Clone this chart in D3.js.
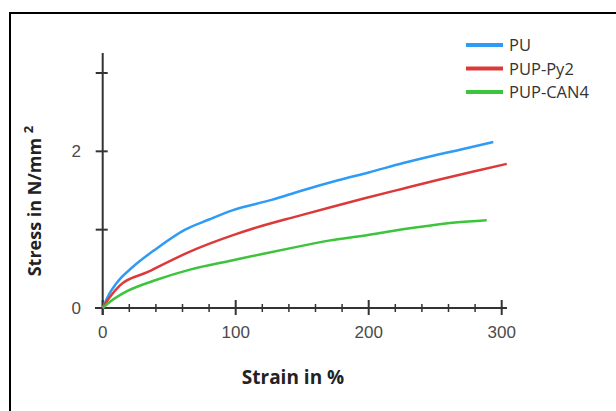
<!DOCTYPE html>
<meta charset="utf-8">
<script src="https://d3js.org/d3.v7.min.js"></script>
<body style="margin:0; background:#fff">
<div id="chart"></div>
</body>
<script>
    // Series: [strain %, stress N/mm2]
    var seriesNames = ["PU", "PUP-Py2", "PUP-CAN4"];
    var seriesColors = ["#2f9bf5", "#dc3a3a", "#3cc43c"];
    var puData = [[0, 0], [4, 0.15], [10.5, 0.32], [23, 0.53], [40.6, 0.76], [62, 1.0], [80, 1.13],
        [98, 1.25], [127, 1.38], [150, 1.5], [177, 1.63], [200, 1.73], [226, 1.85], [250, 1.95], [271, 2.03], [293.7, 2.12]];
    var pyData = [[0, 0], [5, 0.13], [13, 0.29], [34, 0.46], [65.6, 0.72], [98, 0.93], [120, 1.05],
        [146, 1.17], [170, 1.28], [197, 1.40], [225, 1.52], [251, 1.63], [278, 1.74], [303.8, 1.84]];
    var canData = [[0, 0], [5.5, 0.08], [15.5, 0.19], [40.6, 0.36], [65.6, 0.49], [98, 0.61], [120, 0.69],
        [146, 0.78], [170, 0.86], [198.5, 0.93], [220, 0.99], [241, 1.04], [265, 1.09], [288.7, 1.12]];
    var allSeries = [puData, pyData, canData];
    var xMajorTicks = [0, 100, 200, 300];
    var xMinorTicks = d3.range(20, 300, 20).filter(function (d) { return d % 100 !== 0; });
    var yTicks = [0, 1, 2, 3];
    var yLabels = [0, 2];

    var svg = d3.select("#chart").append("svg")
        .attr("width", 616)
        .attr("height", 411);

    // frame (only top and left edges visible)
    svg.append("rect")
        .attr("x", 10).attr("y", 13)
        .attr("width", 800).attr("height", 600)
        .attr("fill", "none")
        .attr("stroke", "#000")
        .attr("stroke-width", 2);

    var x = d3.scaleLinear().domain([0, 300]).range([102.7, 501.7]);
    var y = d3.scaleLinear().domain([0, 3]).range([308, 73]);

    var axisColor = "#333";

    // x axis line
    svg.append("line")
        .attr("x1", 95).attr("x2", 507)
        .attr("y1", y(0)).attr("y2", y(0))
        .attr("stroke", axisColor).attr("stroke-width", 2);

    // y axis line
    svg.append("line")
        .attr("x1", x(0)).attr("x2", x(0))
        .attr("y1", 53).attr("y2", 315)
        .attr("stroke", axisColor).attr("stroke-width", 2);

    // x ticks
    svg.selectAll(".xmaj").data(xMajorTicks).enter().append("line")
        .attr("x1", function (d) { return x(d); }).attr("x2", function (d) { return x(d); })
        .attr("y1", y(0) - 8).attr("y2", y(0) + 7)
        .attr("stroke", axisColor).attr("stroke-width", 2);
    svg.selectAll(".xmin").data(xMinorTicks).enter().append("line")
        .attr("x1", function (d) { return x(d); }).attr("x2", function (d) { return x(d); })
        .attr("y1", y(0) - 4).attr("y2", y(0) + 4)
        .attr("stroke", axisColor).attr("stroke-width", 1.5);

    // y ticks
    svg.selectAll(".yt").data(yTicks).enter().append("line")
        .attr("x1", x(0) - 7).attr("x2", x(0) + 5)
        .attr("y1", function (d) { return y(d); }).attr("y2", function (d) { return y(d); })
        .attr("stroke", axisColor).attr("stroke-width", 2);

    // tick labels
    svg.selectAll(".xl").data(xMajorTicks).enter().append("text")
        .attr("x", function (d) { return x(d); })
        .attr("y", 338)
        .attr("text-anchor", "middle")
        .style("font-family", "Liberation Sans, Arial, sans-serif")
        .style("font-size", "17px")
        .attr("fill", "#4a4a4a")
        .text(function (d) { return d; });
    svg.selectAll(".yl").data(yLabels).enter().append("text")
        .attr("x", 81)
        .attr("y", function (d) { return y(d) + 6; })
        .attr("text-anchor", "end")
        .style("font-family", "Liberation Sans, Arial, sans-serif")
        .style("font-size", "17px")
        .attr("fill", "#4a4a4a")
        .text(function (d) { return d; });

    // axis titles
    svg.append("text")
        .attr("x", 293).attr("y", 384)
        .attr("text-anchor", "middle")
        .style("font-family", "Open Sans, sans-serif")
        .style("font-weight", "bold")
        .style("font-size", "19px")
        .attr("fill", "#222")
        .text("Strain in %");

    var yTitle = svg.append("text")
        .attr("transform", "translate(41,201) rotate(-90)")
        .attr("text-anchor", "middle")
        .style("font-family", "Open Sans, sans-serif")
        .style("font-weight", "bold")
        .style("font-size", "18px")
        .attr("fill", "#222");
    yTitle.append("tspan").text("Stress in N/mm ");
    yTitle.append("tspan").attr("dy", -8).style("font-size", "13px").text("2");

    // curves
    var line = d3.line()
        .x(function (d) { return x(d[0]); })
        .y(function (d) { return y(d[1]); })
        .curve(d3.curveMonotoneX);

    svg.selectAll(".curve").data(allSeries).enter().append("path")
        .attr("d", line)
        .attr("fill", "none")
        .attr("stroke", function (d, i) { return seriesColors[i]; })
        .attr("stroke-width", 2.5);

    // legend
    var legend = svg.selectAll(".leg").data(seriesNames).enter().append("g")
        .attr("transform", function (d, i) { return "translate(466," + (45 + i * 23.5) + ")"; });
    legend.append("line")
        .attr("x1", 0).attr("x2", 37)
        .attr("stroke", function (d, i) { return seriesColors[i]; })
        .attr("stroke-width", 4);
    legend.append("text")
        .attr("x", 43).attr("y", 6)
        .style("font-family", "Open Sans, sans-serif")
        .style("font-size", "16.5px")
        .attr("fill", "#333")
        .text(function (d) { return d; });
</script>
